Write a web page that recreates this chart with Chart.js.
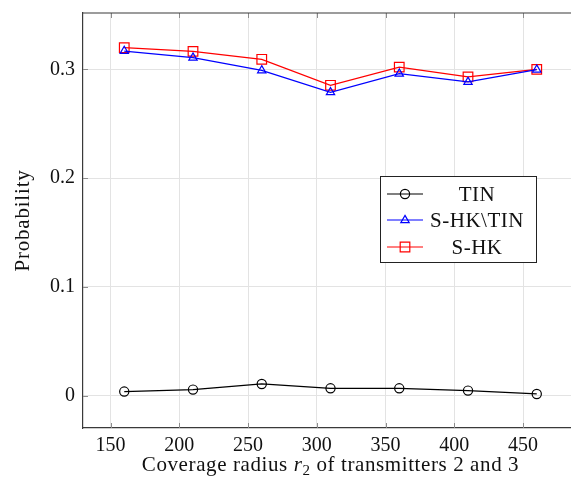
<!DOCTYPE html>
<html>
<head>
<meta charset="utf-8">
<script src="https://cdn.jsdelivr.net/npm/chart.js@4.4.0/dist/chart.umd.min.js"></script>
<style>
    html, body { margin: 0; padding: 0; background: #fff; }
    #wrap { width: 571px; height: 488px; overflow: hidden; position: relative; }
    canvas { display: block; }
</style>
</head>
<body>
<div id="wrap"><canvas id="probChart" width="600" height="488"></canvas></div>
<script>
const radii = [160, 210, 260, 310, 360, 410, 460];
const tin = [0.0037, 0.0055, 0.0107, 0.0067, 0.0067, 0.0046, 0.0015];
const shkTin = [0.3168, 0.3107, 0.2990, 0.2789, 0.2960, 0.2884, 0.2997];
const shk = [0.3199, 0.3165, 0.3092, 0.2853, 0.3020, 0.2930, 0.3000];
const xTicks = [150, 200, 250, 300, 350, 400, 450];
const yTicks = [0, 0.1, 0.2, 0.3];
const seriesNames = ['TIN', 'S-HK\\TIN', 'S-HK'];

const FONT = "'Liberation Serif', 'Times New Roman', serif";
const GRID = '#e3e3e3';
const TICK = '#8c8c8c';
const FRAME = '#3a3a3a';

function toPoints(vals) {
    return vals.map((v, i) => ({x: radii[i], y: v}));
}

function marker(ctx, style, x, y, color) {
    ctx.save();
    ctx.strokeStyle = color;
    ctx.lineWidth = 1.2;
    ctx.beginPath();
    if (style === 'circle') {
        ctx.arc(x, y, 4.6, 0, Math.PI * 2);
    } else if (style === 'triangle') {
        ctx.moveTo(x, y - 4.6);
        ctx.lineTo(x + 4.2, y + 2.6);
        ctx.lineTo(x - 4.2, y + 2.6);
        ctx.closePath();
    } else {
        ctx.rect(x - 4.8, y - 4.8, 9.6, 9.6);
    }
    ctx.stroke();
    ctx.restore();
}

// frame, inner tick marks, axis titles and the boxed legend
const decorations = {
    id: 'decorations',
    afterDraw(chart) {
        const ctx = chart.ctx;
        const a = chart.chartArea;
        const xs = chart.scales.x, ys = chart.scales.y;
        ctx.save();

        ctx.strokeStyle = TICK;
        ctx.lineWidth = 1;
        xTicks.forEach(t => {
            const px = Math.round(xs.getPixelForValue(t)) + 0.5;
            ctx.beginPath();
            ctx.moveTo(px, a.bottom); ctx.lineTo(px, a.bottom - 5);
            ctx.moveTo(px, a.top); ctx.lineTo(px, a.top + 5);
            ctx.stroke();
        });
        yTicks.forEach(t => {
            const py = Math.round(ys.getPixelForValue(t)) + 0.5;
            ctx.beginPath();
            ctx.moveTo(a.left, py); ctx.lineTo(a.left + 5, py);
            ctx.stroke();
        });

        ctx.strokeStyle = FRAME;
        ctx.lineWidth = 1.2;
        ctx.beginPath();
        ctx.moveTo(a.left, a.top); ctx.lineTo(a.right, a.top);
        ctx.stroke();

        // y title
        ctx.fillStyle = '#111';
        ctx.font = '21px ' + FONT;
        ctx.letterSpacing = '0.8px';
        ctx.textAlign = 'center';
        ctx.textBaseline = 'alphabetic';
        ctx.save();
        ctx.translate(29, (a.top + a.bottom) / 2);
        ctx.rotate(-Math.PI / 2);
        ctx.fillText('Probability', 0, 0);
        ctx.restore();

        // x title with italic r and subscript 2
        ctx.letterSpacing = '0.6px';
        const parts = [
            {t: 'Coverage radius ', f: '21px ' + FONT, dy: 0},
            {t: 'r', f: 'italic 21px ' + FONT, dy: 0},
            {t: '2', f: '15px ' + FONT, dy: 4},
            {t: ' of transmitters 2 and 3', f: '21px ' + FONT, dy: 0}
        ];
        let total = 0;
        parts.forEach(p => { ctx.font = p.f; p.w = ctx.measureText(p.t).width; total += p.w; });
        let cx = (a.left + a.right) / 2 - total / 2;
        ctx.textAlign = 'left';
        parts.forEach(p => {
            ctx.font = p.f;
            ctx.fillText(p.t, cx, 471 + p.dy);
            cx += p.w;
        });

        // legend
        const box = {x: 380.5, y: 176.5, w: 156, h: 86};
        ctx.fillStyle = '#fff';
        ctx.fillRect(box.x, box.y, box.w, box.h);
        ctx.strokeStyle = '#222';
        ctx.lineWidth = 1;
        ctx.strokeRect(box.x, box.y, box.w, box.h);
        const rows = [194, 220, 247];
        ctx.letterSpacing = '0.5px';
        chart.data.datasets.forEach((ds, i) => {
            const y = rows[i];
            ctx.strokeStyle = ds.borderColor;
            ctx.lineWidth = 1.2;
            ctx.beginPath();
            ctx.moveTo(387, y); ctx.lineTo(423, y);
            ctx.stroke();
            marker(ctx, ds.pointStyle, 405, y, ds.borderColor);
            ctx.fillStyle = '#111';
            ctx.font = '21px ' + FONT;
            ctx.textAlign = 'center';
            ctx.textBaseline = 'middle';
            ctx.fillText(seriesNames[i], 477, y + 1);
        });
        ctx.letterSpacing = '0px';
        ctx.restore();
    }
};

const commonDs = {
    fill: false,
    tension: 0,
    borderWidth: 1.2,
    pointBorderWidth: 1.2,
    pointBackgroundColor: 'rgba(0,0,0,0)',
    pointHoverRadius: 0
};

new Chart(document.getElementById('probChart'), {
    type: 'line',
    data: {
        datasets: [
            Object.assign({}, commonDs, {
                label: seriesNames[0], data: toPoints(tin),
                borderColor: '#000000', pointStyle: 'circle', pointRadius: 4.6
            }),
            Object.assign({}, commonDs, {
                label: seriesNames[1], data: toPoints(shkTin),
                borderColor: '#0000ff', pointStyle: 'triangle', pointRadius: 4.8
            }),
            Object.assign({}, commonDs, {
                label: seriesNames[2], data: toPoints(shk),
                borderColor: '#ff0000', pointStyle: 'rect', pointRadius: 6.8
            })
        ]
    },
    options: {
        responsive: false,
        animation: false,
        events: [],
        layout: {padding: {left: 0, right: 22, top: 13, bottom: 0}},
        plugins: {legend: {display: false}, tooltip: {enabled: false}},
        scales: {
            x: {
                type: 'linear', min: 130, max: 490,
                afterBuildTicks: s => { s.ticks = xTicks.map(v => ({value: v})); },
                afterFit: s => { s.height = 60; s.paddingLeft = 0; s.paddingRight = 0; },
                grid: {color: GRID, lineWidth: 1, drawTicks: false},
                border: {display: true, color: FRAME, width: 1.2},
                ticks: {color: '#111', font: {family: FONT, size: 20}, padding: 6, maxRotation: 0}
            },
            y: {
                type: 'linear', min: -0.0298, max: 0.3518,
                afterBuildTicks: s => { s.ticks = yTicks.map(v => ({value: v})); },
                afterFit: s => { s.width = 83; s.paddingTop = 0; s.paddingBottom = 0; },
                grid: {color: GRID, lineWidth: 1, drawTicks: false},
                border: {display: true, color: FRAME, width: 1.2},
                ticks: {color: '#111', font: {family: FONT, size: 20}, padding: 8,
                        callback: v => String(Math.round(v * 10) / 10)}
            }
        }
    },
    plugins: [decorations]
});
</script>
</body>
</html>
